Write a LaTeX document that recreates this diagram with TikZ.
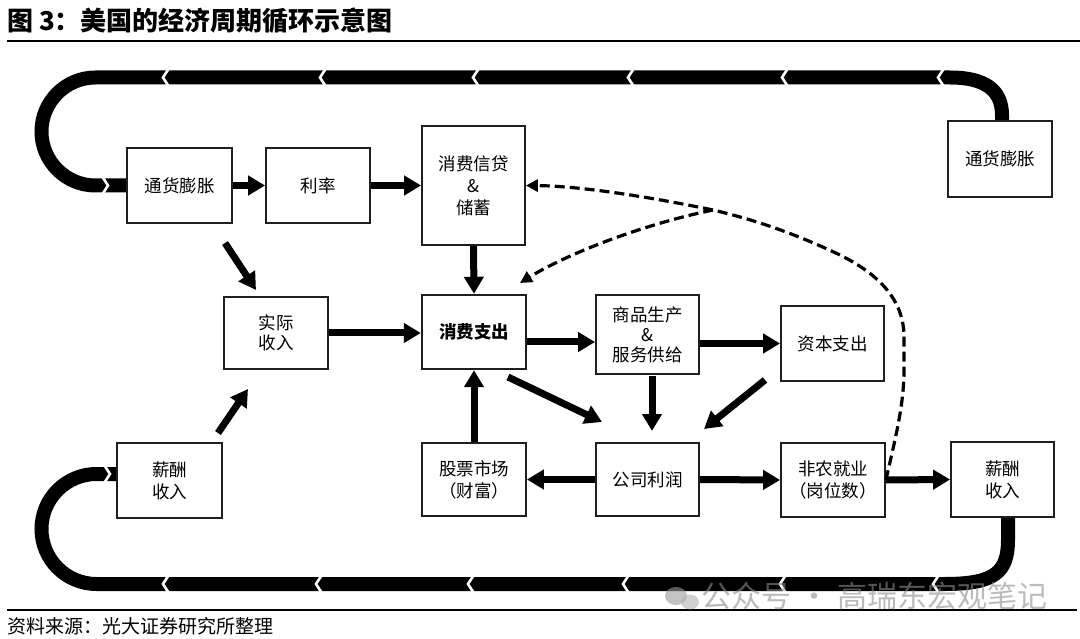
\documentclass[tikz,border=0pt]{standalone}
\usepackage{fontspec}
\setmainfont{Noto Sans CJK SC}
\usetikzlibrary{arrows.meta,calc}
\begin{document}
\begin{tikzpicture}[x=1pt,y=-1pt,
  box/.style={draw=black!88, line width=1.8pt, fill=white, align=center, inner sep=0pt,
    font=\fontsize{17.5}{22}\selectfont, minimum width=104pt, minimum height=75pt},
  arr/.style={line width=7pt, draw=black, -{Triangle[length=17pt,width=19pt]}},
  band/.style={line width=14pt, draw=black},
  dsh/.style={line width=3.2pt, draw=black, dash pattern=on 10pt off 5pt, -{Triangle[length=12pt,width=12pt]}},
  chev/.style={draw=white, line width=2.6pt},
  wm/.style={text=black!45, opacity=0.6, font=\fontsize{30}{30}\selectfont, inner sep=0pt}
]
\useasboundingbox (0,0) rectangle (1080,639);

% title and rules
\node[anchor=west, inner sep=0pt, font=\bfseries\fontsize{26}{26}\selectfont] (title) at (7,20.5) {图 3：美国的经济周期循环示意图};
\draw[line width=2pt] (7,41.5) -- (1080,41.5);

% thick loops
\draw[band] (1002,121) -- (1002,115) .. controls (1002,90) and (985,77.5) .. (950,77.5)
  -- (95.5,77.5) .. controls (65.7,77.5) and (41.5,101.7) .. (41.5,131.5)
  .. controls (41.5,161.3) and (65.7,185.5) .. (95.5,185.5) -- (127,185.5);
\draw[band] (1008,517) -- (1008,540) .. controls (1008,572) and (995,584) .. (945,584)
  -- (96.5,584) .. controls (66.1,584) and (41.5,559.4) .. (41.5,529)
  .. controls (41.5,498.6) and (66.1,474) .. (96.5,474) -- (117,474);
\foreach \x in {163,320,473,628,782,938}{
  \draw[chev] (\x+5.5,69) -- (\x,77.5) -- (\x+5.5,86);
}
\foreach \x in {163,316,468,623,780,933}{
  \draw[chev] (\x+5.5,575.5) -- (\x,584) -- (\x+5.5,592.5);
}
\draw[chev] (102.5,177) -- (108,185.5) -- (102.5,194);
\draw[chev] (104.5,465.5) -- (110,474) -- (104.5,482.5);

% boxes
\node[box, minimum width=105pt] (inf1) at (179.5,185.5) {通货膨胀};
\node[box] (rate) at (318,185.5) {利率};
\node[box, minimum width=103pt, minimum height=119pt] (credit) at (473.5,185.5) {消费信贷\\\&\\储蓄};
\node[box, minimum height=76pt] (inf2) at (1000,159) {通货膨胀};
\node[box, minimum height=72pt, font=\fontsize{17.5}{20.5}\selectfont] (real) at (276,333) {实际\\收入};
\node[box, minimum height=74pt, line width=2.4pt, font=\bfseries\fontsize{17.5}{22}\selectfont] (cons) at (474,332) {消费支出};
\node[box, minimum width=103pt, minimum height=79pt, font=\fontsize{17.5}{20}\selectfont] (prod) at (647.5,334.5) {商品生产\\\&\\服务供给};
\node[box, minimum width=103pt] (capex) at (832.5,343.5) {资本支出};
\node[box, minimum width=103pt, minimum height=73pt] (profit) at (647.5,479.5) {公司利润};
\node[box, minimum height=73pt] (stock) at (474,479.5) {股票市场\\（财富）};
\node[box, minimum height=74pt] (jobs) at (833,480) {非农就业\\（岗位数）};
\node[box, minimum width=103pt] (wage2) at (1002.5,479.5) {薪酬\\收入};
\node[box, minimum width=105pt] (wage1) at (169.5,480.5) {薪酬\\收入};

% free arrow ends
\coordinate (a1s) at (225,243); \coordinate (a1e) at (256,290);
\coordinate (a2s) at (218,433); \coordinate (a2e) at (248,389);
\coordinate (a3s) at (508,377); \coordinate (a3e) at (602,422);
\coordinate (a4s) at (652,376); \coordinate (a4e) at (652,431);
\coordinate (a5s) at (765,380); \coordinate (a5e) at (704,429);
\coordinate (dj) at (713,210); \coordinate (dtip) at (520,283);

% arrows
\draw[arr] (inf1.east) -- (rate.west);
\draw[arr] (rate.east) -- (credit.west);
\draw[arr] (credit.south) -- (cons.north);
\draw[arr] (real.east) -- (real.east -| cons.west);
\draw[arr] (stock.north) -- (cons.south);
\draw[arr] ([yshift=-10pt]cons.east) -- ([yshift=-10pt]cons.east -| prod.west);
\draw[arr] (capex.west -| prod.east) -- (capex.west);
\draw[arr] (profit.west) -- (stock.east);
\draw[arr] (profit.east) -- (jobs.west);
\draw[arr] (jobs.east) -- (wage2.west);
\draw[arr] (a1s) -- (a1e);
\draw[arr] (a2s) -- (a2e);
\draw[arr] (a3s) -- (a3e);
\draw[arr] (a4s) -- (a4e);
\draw[arr] (a5s) -- (a5e);

% dashed feedback
\draw[dsh] (jobs.east) .. controls (895,440) and (904,405) .. (904,370) -- (904,335)
  .. controls (903,300) and (880,275) .. (840,255)
  .. controls (800,236) and (760,221) .. (dj)
  .. controls (650,197) and (580,186) .. (credit.east);
\draw[dsh] (dj) .. controls (640,225) and (565,255) .. (dtip);

% footer
\draw[line width=1.5pt] (7,610) -- (1077,610);
\node[anchor=west, inner sep=0pt, font=\fontsize{19}{19}\selectfont] (src) at (7,626) {资料来源：光大证券研究所整理};

% watermark
\fill[black!40, opacity=0.6] (676,596) ellipse (11 and 9);
\fill[black!30, opacity=0.6] (690,602) ellipse (9 and 7.5);
\node[wm, anchor=west] (wmtext) at (701,596) {公众号\hspace{8pt}·\hspace{8pt}高瑞东宏观笔记};
\end{tikzpicture}
\end{document}
